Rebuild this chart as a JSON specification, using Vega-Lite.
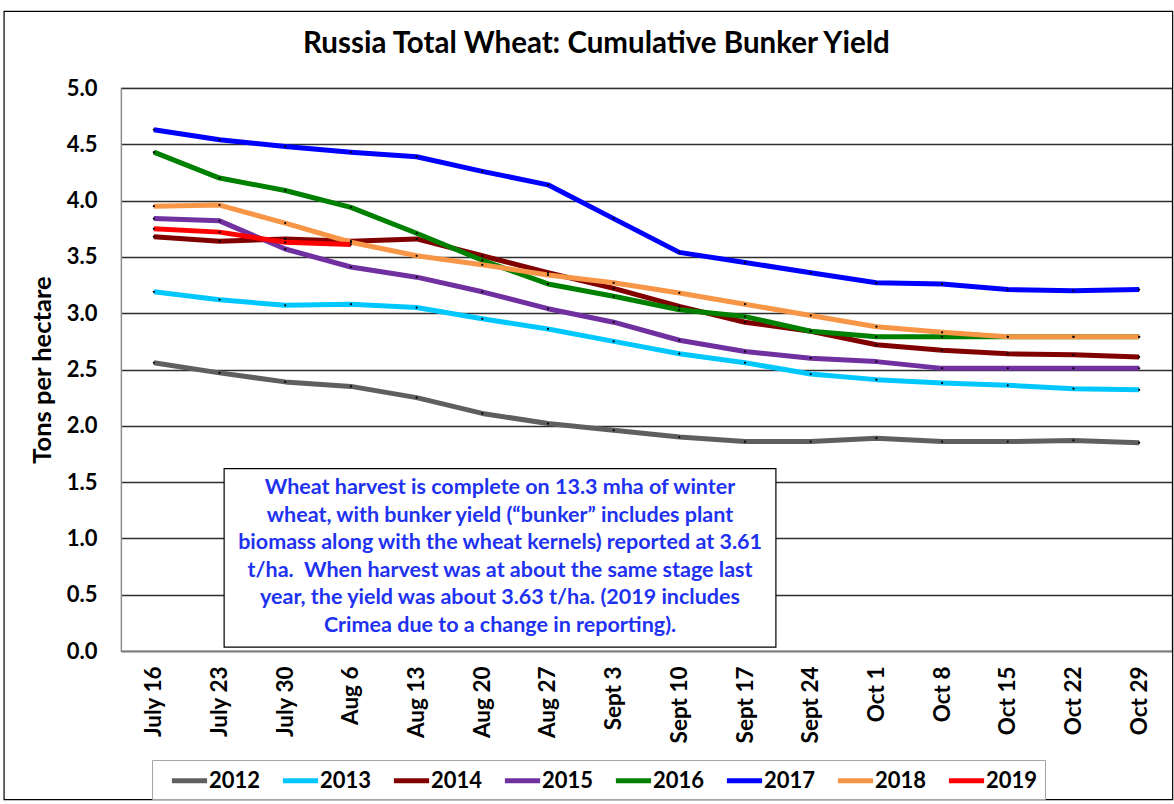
{
  "$schema": "https://vega.github.io/schema/vega-lite/v6.json",
  "width": 1051,
  "height": 563,
  "autosize": "none",
  "padding": {"left": 121, "top": 88, "right": 2, "bottom": 153},
  "background": "white",
  "config": {
    "font": "Lato",
    "view": {"stroke": "#8c8c8c", "strokeWidth": 1.2}
  },
  "title": {
    "text": "Russia Total Wheat: Cumulative Bunker Yield",
    "fontSize": 29.5,
    "fontWeight": "bold",
    "color": "#000000",
    "anchor": "middle",
    "frame": "bounds",
    "dx": 8,
    "offset": -49
  },
  "datasets": {
    "yields": [
      {"i": 0, "week": "July 16", "2012": 2.56, "2013": 3.19, "2014": 3.68, "2015": 3.84, "2016": 4.43, "2017": 4.63, "2018": 3.95, "2019": 3.75},
      {"i": 1, "week": "July 23", "2012": 2.47, "2013": 3.12, "2014": 3.64, "2015": 3.82, "2016": 4.20, "2017": 4.54, "2018": 3.96, "2019": 3.72},
      {"i": 2, "week": "July 30", "2012": 2.39, "2013": 3.07, "2014": 3.66, "2015": 3.57, "2016": 4.09, "2017": 4.48, "2018": 3.80, "2019": 3.63},
      {"i": 3, "week": "Aug 6", "2012": 2.35, "2013": 3.08, "2014": 3.64, "2015": 3.41, "2016": 3.94, "2017": 4.43, "2018": 3.63, "2019": 3.61},
      {"i": 4, "week": "Aug 13", "2012": 2.25, "2013": 3.05, "2014": 3.66, "2015": 3.32, "2016": 3.71, "2017": 4.39, "2018": 3.51, "2019": null},
      {"i": 5, "week": "Aug 20", "2012": 2.11, "2013": 2.95, "2014": 3.51, "2015": 3.19, "2016": 3.47, "2017": 4.26, "2018": 3.43, "2019": null},
      {"i": 6, "week": "Aug 27", "2012": 2.02, "2013": 2.86, "2014": 3.36, "2015": 3.04, "2016": 3.26, "2017": 4.14, "2018": 3.34, "2019": null},
      {"i": 7, "week": "Sept 3", "2012": 1.96, "2013": 2.75, "2014": 3.22, "2015": 2.92, "2016": 3.15, "2017": 3.84, "2018": 3.27, "2019": null},
      {"i": 8, "week": "Sept 10", "2012": 1.90, "2013": 2.64, "2014": 3.06, "2015": 2.76, "2016": 3.03, "2017": 3.54, "2018": 3.18, "2019": null},
      {"i": 9, "week": "Sept 17", "2012": 1.86, "2013": 2.56, "2014": 2.92, "2015": 2.66, "2016": 2.97, "2017": 3.45, "2018": 3.08, "2019": null},
      {"i": 10, "week": "Sept 24", "2012": 1.86, "2013": 2.46, "2014": 2.84, "2015": 2.60, "2016": 2.84, "2017": 3.36, "2018": 2.98, "2019": null},
      {"i": 11, "week": "Oct 1", "2012": 1.89, "2013": 2.41, "2014": 2.72, "2015": 2.57, "2016": 2.79, "2017": 3.27, "2018": 2.88, "2019": null},
      {"i": 12, "week": "Oct 8", "2012": 1.86, "2013": 2.38, "2014": 2.67, "2015": 2.51, "2016": 2.79, "2017": 3.26, "2018": 2.83, "2019": null},
      {"i": 13, "week": "Oct 15", "2012": 1.86, "2013": 2.36, "2014": 2.64, "2015": 2.51, "2016": 2.79, "2017": 3.21, "2018": 2.79, "2019": null},
      {"i": 14, "week": "Oct 22", "2012": 1.87, "2013": 2.33, "2014": 2.63, "2015": 2.51, "2016": 2.79, "2017": 3.20, "2018": 2.79, "2019": null},
      {"i": 15, "week": "Oct 29", "2012": 1.85, "2013": 2.32, "2014": 2.61, "2015": 2.51, "2016": 2.79, "2017": 3.21, "2018": 2.79, "2019": null}
    ],
    "note": [
      {"x": 1.07, "x2": 9.47, "y": 1.62, "y2": 0.035, "xc": 5.27, "yc": 1.448,
       "label": ["Wheat harvest is complete on 13.3 mha of winter", "wheat, with bunker yield (\u201cbunker\u201d includes plant", "biomass along with the wheat kernels) reported at 3.61", "t/ha.\u00a0 When harvest was at about the same stage last", "year, the yield was about 3.63 t/ha. (2019 includes", "Crimea due to a change in reporting)."]}
    ],
    "frame": [
      {"x": -2.28, "x2": 15.51, "y": 5.68, "y2": -1.32}
    ]
  },
  "layer": [
    {
      "data": {"name": "yields"},
      "transform": [
        {"fold": ["2012", "2013", "2014", "2015", "2016", "2017", "2018", "2019"], "as": ["year", "value"]},
        {"filter": "datum.value != null"}
      ],
      "layer": [
        {
          "mark": {"type": "line", "strokeWidth": 5, "strokeJoin": "round", "strokeCap": "butt"},
          "encoding": {
            "x": {
              "field": "i", "type": "quantitative",
              "scale": {"domain": [-0.5, 15.5], "nice": false, "zero": false},
              "axis": {
                "values": [0, 1, 2, 3, 4, 5, 6, 7, 8, 9, 10, 11, 12, 13, 14, 15],
                "labelExpr": "['July 16','July 23','July 30','Aug 6','Aug 13','Aug 20','Aug 27','Sept 3','Sept 10','Sept 17','Sept 24','Oct 1','Oct 8','Oct 15','Oct 22','Oct 29'][datum.value]",
                "title": null,
                "grid": false,
                "ticks": false,
                "labelAngle": 270,
                "labelAlign": "right",
                "labelBaseline": "middle",
                "labelFontSize": 22.5,
                "labelFontWeight": "bold",
                "labelColor": "#000000",
                "labelPadding": 15,
                "labelOverlap": false,
                "labelFlush": false,
                "domainColor": "#7f7f7f",
                "domainWidth": 1.5
              }
            },
            "y": {
              "field": "value", "type": "quantitative",
              "scale": {"domain": [0, 5], "nice": false},
              "axis": {
                "values": [0, 0.5, 1, 1.5, 2, 2.5, 3, 3.5, 4, 4.5, 5],
                "format": ".1f",
                "title": "Tons per hectare",
                "titleFontSize": 25.5,
                "titleFontWeight": "bold",
                "titleColor": "#000000",
                "titlePadding": 11,
                "grid": true,
                "gridColor": "#2e2e2e",
                "gridWidth": 1.3,
                "ticks": false,
                "labelFontSize": 22,
                "labelFontWeight": "bold",
                "labelColor": "#000000",
                "labelPadding": 24,
                "labelFlush": false,
                "domainColor": "#8c8c8c",
                "domainWidth": 1.2
              }
            },
            "color": {
              "field": "year", "type": "nominal",
              "scale": {
                "domain": ["2012", "2013", "2014", "2015", "2016", "2017", "2018", "2019"],
                "range": ["#5f5f5f", "#00c8ff", "#800000", "#7030a0", "#008000", "#0000ff", "#f79646", "#ff0000"]
              },
              "legend": {
                "title": null,
                "orient": "none",
                "legendX": 31,
                "legendY": 672,
                "direction": "horizontal",
                "symbolType": "M-1.6,0H1.6",
                "symbolSize": 484,
                "symbolStrokeWidth": 5,
                "symbolOffset": 17,
                "labelFontSize": 22,
                "labelFontWeight": "bold",
                "labelColor": "#000000",
                "labelOffset": 6,
                "columnPadding": 9,
                "padding": 7,
                "strokeColor": "#a6a6a6",
                "fillColor": "#ffffff"
              }
            }
          }
        },
        {
          "mark": {"type": "point", "filled": true, "color": "#000000", "size": 5, "opacity": 1},
          "encoding": {
            "x": {"field": "i", "type": "quantitative"},
            "y": {"field": "value", "type": "quantitative"},
            "detail": {"field": "year"}
          }
        }
      ]
    },
    {
      "data": {"name": "note"},
      "mark": {"type": "rect", "fill": "#ffffff", "stroke": "#000000", "strokeWidth": 1.2},
      "encoding": {
        "x": {"field": "x", "type": "quantitative"},
        "x2": {"field": "x2"},
        "y": {"field": "y", "type": "quantitative"},
        "y2": {"field": "y2"}
      }
    },
    {
      "data": {"name": "note"},
      "mark": {"type": "text", "fontSize": 21.5, "fontWeight": "bold", "color": "#1e32f0", "align": "center", "baseline": "middle", "lineHeight": 27.6},
      "encoding": {
        "x": {"field": "xc", "type": "quantitative"},
        "y": {"field": "yc", "type": "quantitative"},
        "text": {"field": "label"}
      }
    },
    {
      "data": {"name": "frame"},
      "mark": {"type": "rect", "fill": null, "stroke": "#000000", "strokeWidth": 1.2, "clip": false},
      "encoding": {
        "x": {"field": "x", "type": "quantitative"},
        "x2": {"field": "x2"},
        "y": {"field": "y", "type": "quantitative"},
        "y2": {"field": "y2"}
      }
    }
  ]
}
